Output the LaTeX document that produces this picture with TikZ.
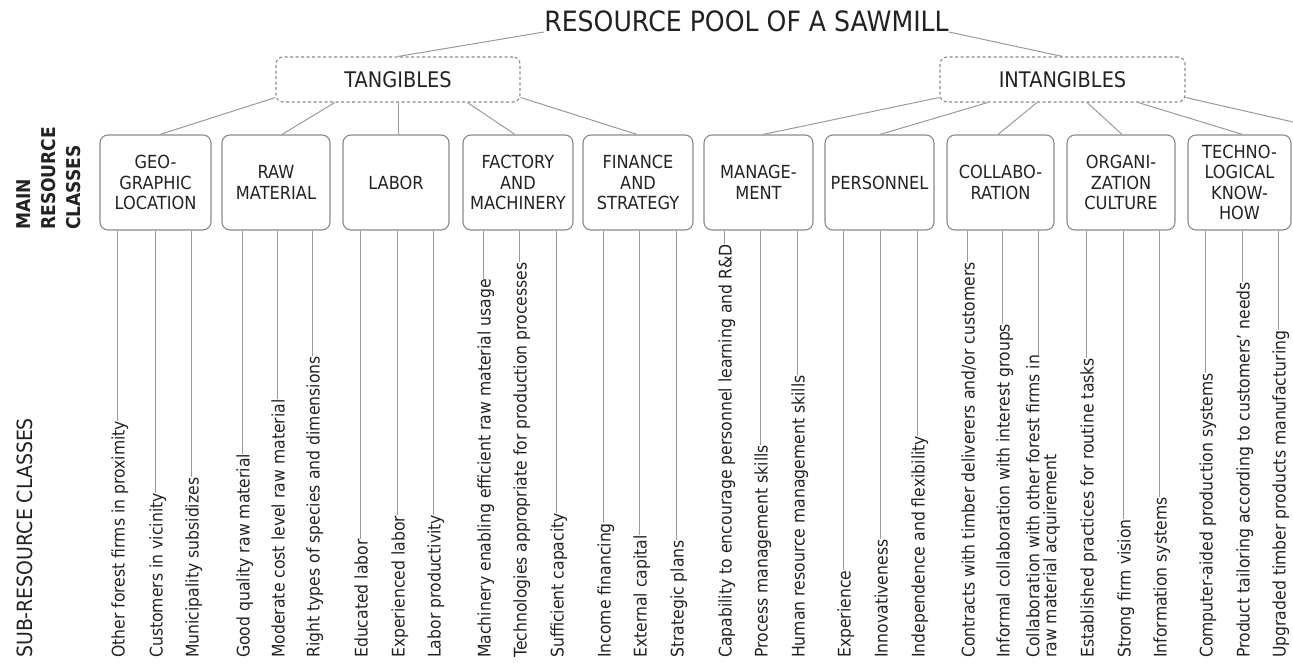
\documentclass[tikz,border=0pt]{standalone}
\usepackage{fontspec}
\setmainfont{DejaVu Sans}[FakeStretch=0.9]
\usetikzlibrary{calc}
\definecolor{txt}{HTML}{222222}
\definecolor{ln}{HTML}{9A9A9A}
\definecolor{bx}{HTML}{8A8A8A}
\tikzset{
  mainbox/.style={draw=bx, line width=1.1pt, rounded corners=8pt, minimum height=95pt,
    inner sep=0pt, align=center, text=txt, font=\fontsize{18}{20.5}\selectfont},
  groupbox/.style={draw=bx, line width=1.1pt, dash pattern=on 3pt off 2.5pt, rounded corners=7pt,
    minimum width=245pt, minimum height=45pt, inner sep=0pt, text=txt, font=\fontsize{21.5}{24}\selectfont},
  sublbl/.style={rotate=90, anchor=west, inner sep=0pt, text height=15pt, text depth=0pt,
    text=txt, font=\fontsize{17.4}{17}\selectfont},
  sublbltwo/.style={rotate=90, anchor=west, inner sep=0pt, align=left,
    text=txt, font=\fontsize{17.4}{17}\selectfont},
  conn/.style={draw=ln, line width=1pt},
  titlelbl/.style={anchor=south, inner sep=0pt, text depth=0pt, text=txt, font=\fontsize{28}{30}\selectfont},
  sidelbl/.style={rotate=90, anchor=north west, inner sep=0pt, align=left, text=txt},
}
\begin{document}
\begin{tikzpicture}[x=1pt, y=-1pt]
\useasboundingbox (0,0) rectangle (1293,662);

% title and groups
\node[titlelbl] (ttl) at (746.5,32) {RESOURCE POOL OF A SAWMILL};
\node[groupbox, minimum width=244pt] (tang) at (398,79.5) {TANGIBLES};
\node[groupbox] (intg) at (1062.5,79.5) {INTANGIBLES};

% side labels
\node[sidelbl, font=\bfseries\fontsize{19}{25}\selectfont] (mrc) at (16,230) {MAIN\\RESOURCE\\CLASSES};
\node[sidelbl, font=\fontsize{21}{24}\selectfont] (src) at (17,658) {SUB-RESOURCE CLASSES};

% main resource classes
\node[mainbox, minimum width=111pt] (geo)  at (155.5,182.5) {GEO-\\GRAPHIC\\LOCATION};
\node[mainbox, minimum width=108pt] (raw)  at (276,182.5)   {RAW\\MATERIAL};
\node[mainbox, minimum width=106pt] (labor) at (396,182.5)  {LABOR};
\node[mainbox, minimum width=110pt] (fact) at (518,182.5)   {FACTORY\\AND\\MACHINERY};
\node[mainbox, minimum width=110pt] (fin)  at (638,182.5)   {FINANCE\\AND\\STRATEGY};
\node[mainbox, minimum width=109pt] (mgmt) at (758.5,182.5) {MANAGE-\\MENT};
\node[mainbox, minimum width=109pt] (pers) at (879.5,182.5) {PERSONNEL};
\node[mainbox, minimum width=107pt] (coll) at (1000.5,182.5) {COLLABO-\\RATION};
\node[mainbox, minimum width=108pt] (org)  at (1121,182.5)  {ORGANI-\\ZATION\\CULTURE};
\node[mainbox, minimum width=103pt] (tech) at (1239.5,182.5) {TECHNO-\\LOGICAL\\KNOW-\\HOW};

% title connectors
\draw[conn] (ttl.south west) -- (tang.north);
\draw[conn] (ttl.south east) -- (intg.north);

% tangibles connectors
\draw[conn] ($(tang.north west)!0.89!(tang.south west)$) -- ([xshift=4.5pt]geo.north);
\draw[conn] ($(tang.south west)!0.242!(tang.south east)$) -- ([xshift=6pt]raw.north);
\draw[conn] (tang.south) -- (tang.south |- labor.north);
\draw[conn] ($(tang.south west)!0.783!(tang.south east)$) -- ([xshift=-3pt]fact.north);
\draw[conn] ($(tang.north east)!0.89!(tang.south east)$) -- ([xshift=-1pt]fin.north);

% intangibles connectors
\draw[conn] ($(intg.north west)!0.89!(intg.south west)$) -- ([xshift=4.5pt]mgmt.north);
\draw[conn] ($(intg.south west)!0.196!(intg.south east)$) -- ([xshift=0.5pt]pers.north);
\draw[conn] ($(intg.south west)!0.396!(intg.south east)$) -- ([xshift=-2.5pt]coll.north);
\draw[conn] ($(intg.south west)!0.6!(intg.south east)$) -- ([xshift=1pt]org.north);
\draw[conn] ($(intg.south west)!0.808!(intg.south east)$) -- ([xshift=3pt]tech.north);
\coordinate (offbox) at (1293,122);
\draw[conn] ($(intg.north east)!0.89!(intg.south east)$) -- (offbox);

% sub-resource labels
\node[sublbl] (l1)  at (117,658)  {Other forest firms in proximity};
\node[sublbl] (l2)  at (155,658)  {Customers in vicinity};
\node[sublbl] (l3)  at (191,658)  {Municipality subsidizes};
\node[sublbl] (l4)  at (242,658)  {Good quality raw material};
\node[sublbl] (l5)  at (277,658)  {Moderate cost level raw material};
\node[sublbl] (l6)  at (312,658)  {Right types of species and dimensions};
\node[sublbl] (l7)  at (360,658)  {Educated labor};
\node[sublbl] (l8)  at (397,658)  {Experienced labor};
\node[sublbl] (l9)  at (433,658)  {Labor productivity};
\node[sublbl] (l10) at (483,658)  {Machinery enabling efficient raw material usage};
\node[sublbl] (l11) at (519,658)  {Technologies appropriate for production processes};
\node[sublbl] (l12) at (556,658)  {Sufficient capacity};
\node[sublbl] (l13) at (603,658)  {Income financing};
\node[sublbl] (l14) at (639,658)  {External capital};
\node[sublbl] (l15) at (676,658)  {Strategic plans};
\node[sublbl] (l16) at (724,658)  {Capability to encourage personnel learning and R\&D};
\node[sublbl] (l17) at (760,658)  {Process management skills};
\node[sublbl] (l18) at (797,658)  {Human resource management skills};
\node[sublbl] (l19) at (843,658)  {Experience};
\node[sublbl] (l20) at (880,658)  {Innovativeness};
\node[sublbl] (l21) at (917,658)  {Independence and flexibility};
\node[sublbl] (l22) at (967,658)  {Contracts with timber deliverers and/or customers};
\node[sublbl] (l23) at (1002,658) {Informal collaboration with interest groups};
\node[sublbltwo] (l24) at (1043,658) {Collaboration with other forest firms in\\raw material acquirement};
\node[sublbl] (l25) at (1086,658) {Established practices for routine tasks};
\node[sublbl] (l26) at (1123,658) {Strong firm vision};
\node[sublbl] (l27) at (1159,658) {Information systems};
\node[sublbl] (l28) at (1205,658) {Computer-aided production systems};
\node[sublbl] (l29) at (1242,658) {Product tailoring according to customers' needs};
\node[sublbl] (l30) at (1278,658) {Upgraded timber products manufacturing};

% sub-resource connectors
\draw[conn] (geo.south -| l1.east) -- (l1.east);
\draw[conn] (geo.south -| l2.east) -- (l2.east);
\draw[conn] (geo.south -| l3.east) -- (l3.east);
\draw[conn] (raw.south -| l4.east) -- (l4.east);
\draw[conn] (raw.south -| l5.east) -- (l5.east);
\draw[conn] (raw.south -| l6.east) -- (l6.east);
\draw[conn] (labor.south -| l7.east) -- (l7.east);
\draw[conn] (labor.south -| l8.east) -- (l8.east);
\draw[conn] (labor.south -| l9.east) -- (l9.east);
\draw[conn] (fact.south -| l10.east) -- (l10.east);
\draw[conn] (fact.south -| l11.east) -- (l11.east);
\draw[conn] (fact.south -| l12.east) -- (l12.east);
\draw[conn] (fin.south -| l13.east) -- (l13.east);
\draw[conn] (fin.south -| l14.east) -- (l14.east);
\draw[conn] (fin.south -| l15.east) -- (l15.east);
\draw[conn] (mgmt.south -| l16.east) -- (l16.east);
\draw[conn] (mgmt.south -| l17.east) -- (l17.east);
\draw[conn] (mgmt.south -| l18.east) -- (l18.east);
\draw[conn] (pers.south -| l19.east) -- (l19.east);
\draw[conn] (pers.south -| l20.east) -- (l20.east);
\draw[conn] (pers.south -| l21.east) -- (l21.east);
\draw[conn] (coll.south -| l22.east) -- (l22.east);
\draw[conn] (coll.south -| l23.east) -- (l23.east);
\coordinate (c24) at ($(l24.east)+(-5,0)$);
\draw[conn] (coll.south -| c24) -- (c24);
\draw[conn] (org.south -| l25.east) -- (l25.east);
\draw[conn] (org.south -| l26.east) -- (l26.east);
\draw[conn] (org.south -| l27.east) -- (l27.east);
\draw[conn] (tech.south -| l28.east) -- (l28.east);
\draw[conn] (tech.south -| l29.east) -- (l29.east);
\draw[conn] (tech.south -| l30.east) -- (l30.east);
\end{tikzpicture}
\end{document}
